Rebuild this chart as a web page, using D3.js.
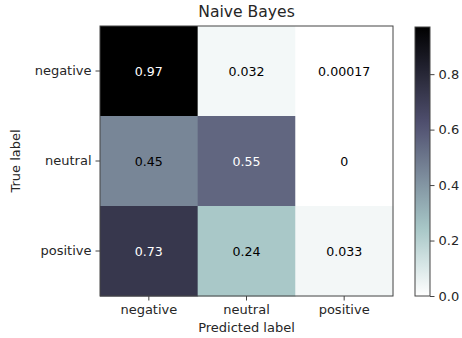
<!DOCTYPE html>
<html><head><meta charset="utf-8">
<script src="https://cdn.jsdelivr.net/npm/d3@7"></script>
<style>body{margin:0;background:#fff}svg{display:block}text{font-family:"DejaVu Sans",sans-serif;fill:#262626}</style>
</head><body>
<script>
const trueLabels = ["negative","neutral","positive"];
const predLabels = ["negative","neutral","positive"];
const valNegative = [0.97, 0.032, 0.00017];
const valNeutral = [0.45, 0.55, 0];
const valPositive = [0.73, 0.24, 0.033];
const valueLabels = [["0.97","0.032","0.00017"],["0.45","0.55","0"],["0.73","0.24","0.033"]];
const cbTicks = [0.0, 0.2, 0.4, 0.6, 0.8];
const chartTitle = "Naive Bayes";

(function () {
const rows = [valNegative, valNeutral, valPositive];
const W = 462, H = 338;
const svg = d3.select("body").append("svg").attr("width", W).attr("height", H);

const pL = 100, pR = 393, pT = 26, pB = 296;
const x = d3.scaleBand().domain(predLabels).range([pL, pR]);
const y = d3.scaleBand().domain(trueLabels).range([pT, pB]);

const all = rows.flat();
const vmin = d3.min(all), vmax = d3.max(all);

// bone colormap (matplotlib), reversed
const boneR = d3.scaleLinear().domain([0, 0.746032, 1]).range([0, 0.652778, 1]).clamp(true);
const boneG = d3.scaleLinear().domain([0, 0.365079, 0.746032, 1]).range([0, 0.319444, 0.777778, 1]).clamp(true);
const boneB = d3.scaleLinear().domain([0, 0.365079, 1]).range([0, 0.444444, 1]).clamp(true);
function boneRev(t) {
  const u = 1 - t;
  return d3.rgb(boneR(u) * 255, boneG(u) * 255, boneB(u) * 255).toString();
}
const norm = d3.scaleLinear().domain([vmin, vmax]).range([0, 1]).clamp(true);
const color = v => boneRev(norm(v));
const thresh = (vmin + vmax) / 2;

const cells = [];
rows.forEach((r, i) => r.forEach((v, j) => cells.push({i, j, v})));

svg.append("g").selectAll("rect").data(cells).join("rect")
  .attr("x", d => x(predLabels[d.j]))
  .attr("y", d => y(trueLabels[d.i]))
  .attr("width", x.bandwidth() + 0.5)
  .attr("height", y.bandwidth() + 0.5)
  .attr("fill", d => color(d.v));

svg.append("g").selectAll("text").data(cells).join("text")
  .attr("x", d => x(predLabels[d.j]) + x.bandwidth() / 2)
  .attr("y", d => y(trueLabels[d.i]) + y.bandwidth() / 2)
  .attr("text-anchor", "middle").attr("dominant-baseline", "central")
  .attr("font-size", 12.6)
  .style("fill", d => d.v < thresh ? boneRev(1) : boneRev(0))
  .text(d => valueLabels[d.i][d.j]);

svg.append("rect").attr("x", pL).attr("y", pT).attr("width", pR - pL).attr("height", pB - pT)
  .attr("fill", "none").attr("stroke", "#444").attr("stroke-width", 1);

const xAxis = svg.append("g").attr("transform", `translate(0,${pB})`)
  .call(d3.axisBottom(x).tickSize(4.5).tickPadding(4));
const yAxis = svg.append("g").attr("transform", `translate(${pL},0)`)
  .call(d3.axisLeft(y).tickSize(4.5).tickPadding(4));
[xAxis, yAxis].forEach(a => {
  a.select(".domain").remove();
  a.selectAll("line").attr("stroke", "#444");
  a.selectAll("text").attr("font-size", 13).attr("font-family", "DejaVu Sans").style("fill", "#262626");
});

svg.append("text").attr("x", (pL + pR) / 2).attr("y", 12).attr("text-anchor", "middle")
  .attr("dominant-baseline", "central").attr("font-size", 15.6).text(chartTitle);
svg.append("text").attr("x", (pL + pR) / 2).attr("y", 327).attr("text-anchor", "middle")
  .attr("dominant-baseline", "central").attr("font-size", 13).text("Predicted label");
svg.append("text").attr("transform", `translate(15,${(pT + pB) / 2}) rotate(-90)`).attr("text-anchor", "middle")
  .attr("dominant-baseline", "central").attr("font-size", 13).text("True label");

const cbX = 415, cbW = 15;
const cy = d3.scaleLinear().domain([vmin, vmax]).range([pB, pT + 1]);
const defs = svg.append("defs");
const grad = defs.append("linearGradient").attr("id", "cbg").attr("x1", 0).attr("y1", 1).attr("x2", 0).attr("y2", 0);
d3.range(0, 1.0001, 0.05).forEach(t => grad.append("stop").attr("offset", t).attr("stop-color", boneRev(t)));
svg.append("rect").attr("x", cbX).attr("y", cy(vmax)).attr("width", cbW).attr("height", cy(vmin) - cy(vmax))
  .attr("fill", "url(#cbg)").attr("stroke", "#444").attr("stroke-width", 1);
const cbAxis = svg.append("g").attr("transform", `translate(${cbX + cbW},0)`)
  .call(d3.axisRight(cy).tickValues(cbTicks).tickFormat(d3.format(".1f")).tickSize(4.5).tickPadding(4));
cbAxis.select(".domain").remove();
cbAxis.selectAll("line").attr("stroke", "#444");
cbAxis.selectAll("text").attr("font-size", 13).attr("font-family", "DejaVu Sans").style("fill", "#262626");
})();
</script>
</body></html>
